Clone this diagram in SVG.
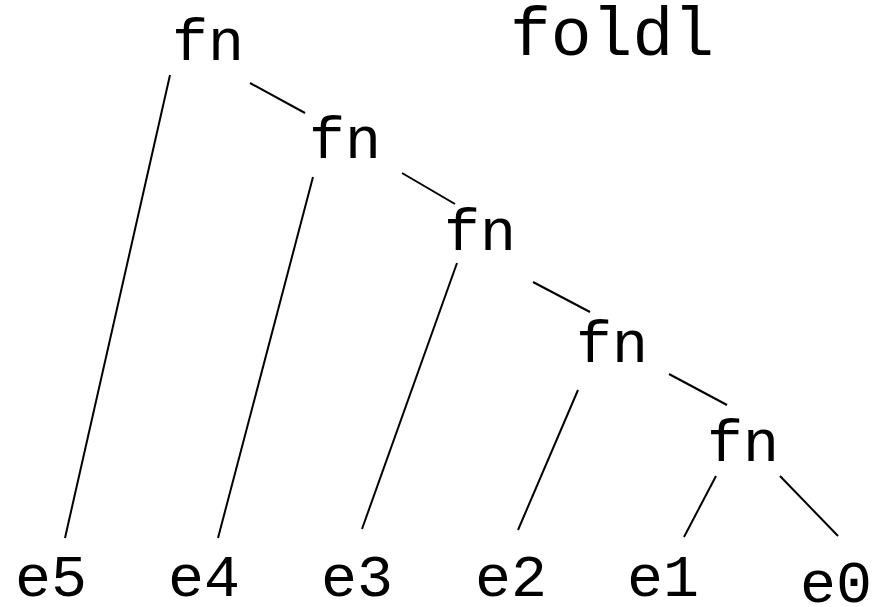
<svg xmlns="http://www.w3.org/2000/svg" width="875" height="607" viewBox="0 0 875 607">
  <style>
    text { font-family: "Liberation Mono", "Courier New", monospace; font-size: 60px; fill: #000; text-anchor: middle; }
    .title { font-size: 68px; }
    line { stroke: #000; stroke-width: 2; }
  </style>
  <rect width="875" height="607" fill="#fff"/>
  <text class="title" x="612" y="55">foldl</text>
  <g id="connectors">
    <line x1="170" y1="75" x2="65" y2="538"/>
    <line x1="250" y1="83" x2="305" y2="113"/>
    <line x1="313" y1="177" x2="218" y2="538"/>
    <line x1="402" y1="173" x2="455" y2="204"/>
    <line x1="457" y1="263" x2="362" y2="529"/>
    <line x1="533" y1="282" x2="590" y2="312"/>
    <line x1="578" y1="390" x2="518" y2="530"/>
    <line x1="669" y1="374" x2="727" y2="405"/>
    <line x1="716" y1="476" x2="684" y2="537"/>
    <line x1="780" y1="476" x2="838" y2="536"/>
  </g>
  <g id="fn1"><text x="208" y="60">fn</text></g>
  <g id="fn2"><text x="345" y="158">fn</text></g>
  <g id="fn3"><text x="480" y="250">fn</text></g>
  <g id="fn4"><text x="612" y="362">fn</text></g>
  <g id="fn5"><text x="743" y="461">fn</text></g>
  <g id="e5"><text x="51" y="596">e5</text></g>
  <g id="e4"><text x="204" y="596">e4</text></g>
  <g id="e3"><text x="357" y="596">e3</text></g>
  <g id="e2"><text x="511" y="596">e2</text></g>
  <g id="e1"><text x="663" y="596">e1</text></g>
  <g id="e0"><text x="836" y="602">e0</text></g>
</svg>
